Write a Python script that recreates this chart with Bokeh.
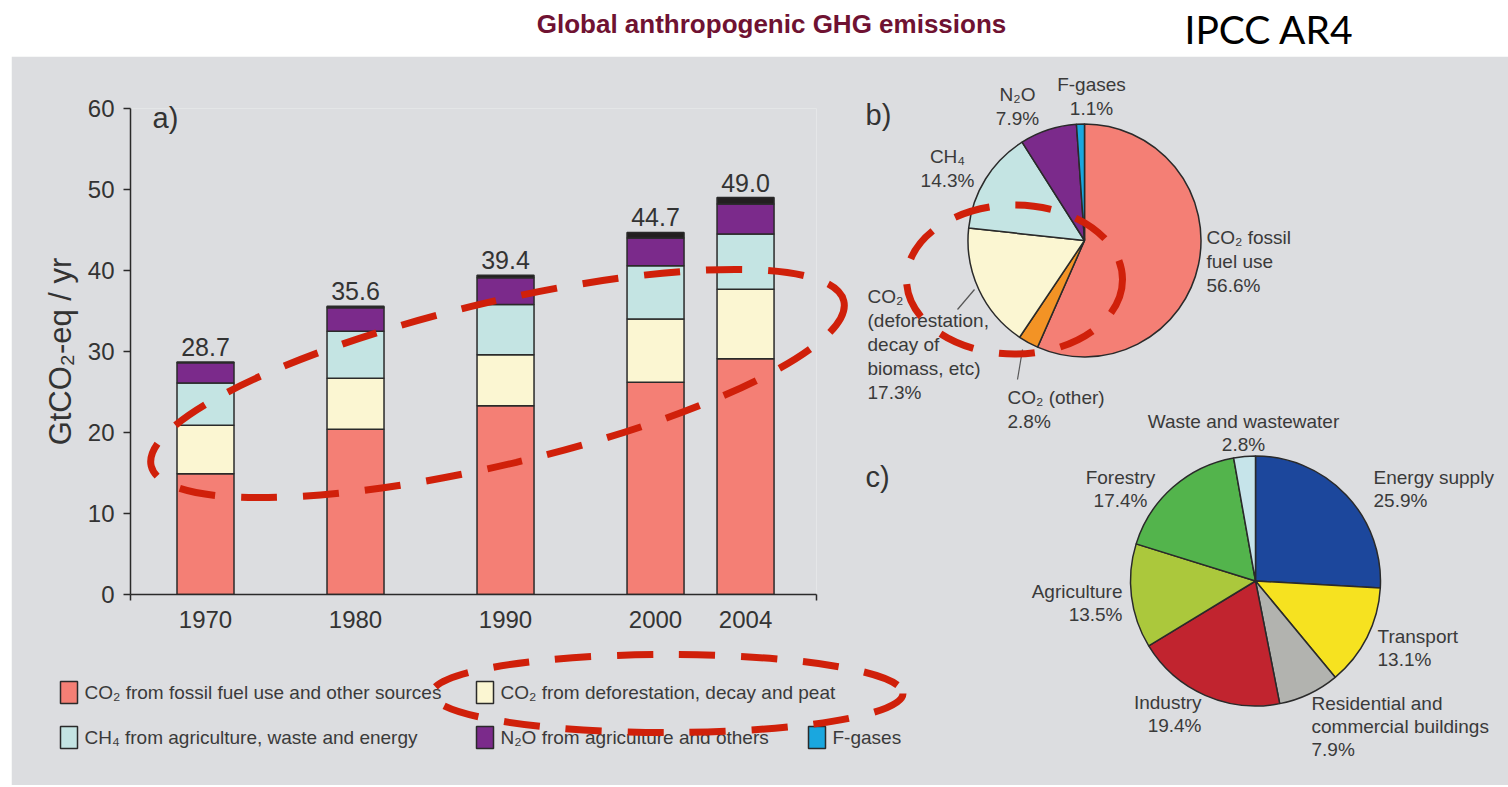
import math
from bokeh.plotting import figure
from bokeh.models import ColumnDataSource, Range1d, FixedTicker, Spacer
from bokeh.layouts import column, row
from bokeh.embed import file_html
from bokeh.resources import INLINE
from bokeh.core.properties import value

# ---------------- data ----------------
years = ["1970", "1980", "1990", "2000", "2004"]
co2_fossil = [14.9, 20.4, 23.3, 26.2, 29.1]
co2_deforestation = [6.0, 6.3, 6.3, 7.8, 8.6]
ch4 = [5.2, 5.8, 6.2, 6.6, 6.8]
n2o = [2.5, 2.9, 3.3, 3.4, 3.7]
f_gases = [0.1, 0.2, 0.3, 0.7, 0.8]
totals = [28.7, 35.6, 39.4, 44.7, 49.0]
y_ticks = [0, 10, 20, 30, 40, 50, 60]

series_labels = [
    "CO₂ from fossil fuel use and other sources",
    "CO₂ from deforestation, decay and peat",
    "CH₄ from agriculture, waste and energy",
    "N₂O from agriculture and others",
    "F-gases",
]

gas_names = ["CO₂ fossil\nfuel use", "CO₂ (other)",
             "CO₂\n(deforestation,\ndecay of\nbiomass, etc)",
             "CH₄", "N₂O", "F-gases"]
gas_shares = [56.6, 2.8, 17.3, 14.3, 7.9, 1.1]

sector_names = ["Energy supply", "Transport",
                "Residential and\ncommercial buildings", "Industry",
                "Agriculture", "Forestry", "Waste and wastewater"]
sector_shares = [25.9, 13.1, 7.9, 19.4, 13.5, 17.4, 2.8]

# ---------------- layout / style ----------------
bar_pos = [0, 10, 20, 30, 36]
FONT = "Liberation Sans"
GREY = "#dcdde0"
INK = "#333333"
OUT = "#2a2a2a"
RED = "#d0200a"
C_FOSSIL = "#f47f75"
C_DEFOR = "#fbf6d2"
C_CH4 = "#c4e4e3"
C_N2O = "#7b2a8b"
C_FGAS = "#1aa7df"
C_FGAS_BAR = "#231f20"
C_OTHER = "#f39325"
gas_colors = [C_FOSSIL, C_OTHER, C_DEFOR, C_CH4, C_N2O, C_FGAS]
sector_colors = ["#1c479c", "#f6e220", "#b2b3af", "#c1242f", "#abc83c",
                 "#53b44c", "#c6e4ea"]
gas_label_pos = [(1207, 238, "left"), (1008, 398, "left"), (868, 297, "left"),
                 (948, 157, "center"), (1018, 95, "center"), (1092, 85, "center")]
sector_label_pos = [(1374, 478, "left"), (1378, 637, "left"), (1312, 704, "left"),
                    (1202, 703, "right"), (1123, 592, "right"),
                    (1121, 478, "center"), (1244, 422, "center")]
legend_pos = [(61, 693), (477, 693), (61, 738), (477, 738), (809, 738)]
legend_colors = [C_FOSSIL, C_DEFOR, C_CH4, C_N2O, C_FGAS]

# ---------------- header ----------------
hdr = figure(width=1507, height=56, x_range=Range1d(1, 1508), y_range=Range1d(57, 1),
             x_axis_type=None, y_axis_type=None, toolbar_location=None,
             output_backend="svg", min_border=0, outline_line_color=None,
             background_fill_color="white", border_fill_color="white")
hdr.text(x=[772], y=[24], text=["Global anthropogenic GHG emissions"],
         text_font=value(FONT), text_font_style="bold", text_font_size="26px",
         text_color="#6f1232", text_align="center", text_baseline="middle",
         level="overlay")
hdr.text(x=[1185], y=[29], text=["IPCC AR4"], text_font=value("Lato"),
         text_font_size="39px", text_color="black", text_align="left",
         text_baseline="middle", level="overlay")

# ---------------- main panel ----------------
p = figure(frame_width=686, frame_height=486, x_range=Range1d(-5, 40.73),
           y_range=Range1d(0, 60), toolbar_location=None, output_backend="svg",
           min_border_left=119, min_border_right=692, min_border_top=52,
           min_border_bottom=191, background_fill_color=GREY,
           border_fill_color=GREY, outline_line_color=None)
p.extra_x_ranges = {"px": Range1d(131, 817)}
p.extra_y_ranges = {"py": Range1d(595, 109)}
p.grid.visible = False

yax = p.yaxis[0]
yax.ticker = FixedTicker(ticks=y_ticks)
yax.axis_line_color = OUT
yax.axis_line_width = 1.5
yax.major_tick_line_color = OUT
yax.major_tick_line_width = 1.5
yax.major_tick_out = 7
yax.major_tick_in = 0
yax.minor_tick_line_color = None
yax.major_label_text_font = FONT
yax.major_label_text_font_size = "24px"
yax.major_label_text_color = INK
yax.major_label_standoff = 9
yax.axis_label = "GtCO₂-eq / yr"
yax.axis_label_text_font = FONT
yax.axis_label_text_font_size = "31px"
yax.axis_label_text_font_style = "normal"
yax.axis_label_text_color = INK
yax.axis_label_standoff = 7

xax = p.xaxis[0]
xax.ticker = FixedTicker(ticks=bar_pos, minor_ticks=[-4.99, 40.72])
xax.major_label_overrides = dict(zip(bar_pos, years))
xax.axis_line_color = OUT
xax.axis_line_width = 1.5
xax.major_tick_line_color = None
xax.major_tick_out = 0
xax.major_tick_in = 0
xax.minor_tick_line_color = OUT
xax.minor_tick_line_width = 1.5
xax.minor_tick_out = 6
xax.minor_tick_in = 0
xax.major_label_text_font = FONT
xax.major_label_text_font_size = "24px"
xax.major_label_text_color = INK
xax.major_label_standoff = 10

src = ColumnDataSource(dict(x=bar_pos, fossil=co2_fossil, defor=co2_deforestation,
                            ch4=ch4, n2o=n2o, fgas=f_gases))
p.vbar_stack(["fossil", "defor", "ch4", "n2o", "fgas"], x="x", width=3.8, source=src,
             fill_color=[C_FOSSIL, C_DEFOR, C_CH4, C_N2O, C_FGAS_BAR],
             line_color=OUT, line_width=1.5)
p.text(x=bar_pos, y=totals, text=[f"{t:.1f}" for t in totals], text_align="center",
       text_baseline="middle", y_offset=-15, text_font=value(FONT),
       text_font_size="25px", text_color=INK)

PX = dict(x_range_name="px", y_range_name="py", level="overlay")


def put_text(x, y, s, size="19px", align="left", color=INK):
    p.text(x=[x], y=[y], text=[s], text_align=align, text_baseline="middle",
           text_font=value(FONT), text_font_size=size, text_color=color, **PX)


def put_lines(x, y0, s, align, dy=23.5):
    for i, line in enumerate(s.split("\n")):
        put_text(x, y0 + i * dy, line, align=align, color="#3a3a3a")


def wedge_angles(shares):
    tot = sum(shares)
    starts, ends, c = [], [], 0.0
    for s in shares:
        starts.append(math.pi / 2 - 2 * math.pi * c / tot)
        c += s
        ends.append(math.pi / 2 - 2 * math.pi * c / tot)
    return starts, ends


# panel letters
put_text(153, 118, "a)", size="29px")
put_text(866, 115, "b)", size="29px")
put_text(866, 477, "c)", size="29px")

# pie b
s_b, e_b = wedge_angles(gas_shares)
p.wedge(x=1085, y=241, radius=116.5, start_angle=s_b, end_angle=e_b,
        direction="clock", fill_color=gas_colors, line_color=OUT, line_width=1.5, **PX)
for name, share, (lx, ly, al) in zip(gas_names, gas_shares, gas_label_pos):
    put_lines(lx, ly, f"{name}\n{share:.1f}%", al, dy=24)
p.segment(x0=[958, 1018], y0=[310, 380], x1=[975, 1023], y1=[290, 350],
          line_color="#555555", line_width=1.2, **PX)

# pie c
s_c, e_c = wedge_angles(sector_shares)
p.wedge(x=1256, y=581.5, radius=125, start_angle=s_c, end_angle=e_c,
        direction="clock", fill_color=sector_colors, line_color=OUT, line_width=1.5, **PX)
for name, share, (lx, ly, al) in zip(sector_names, sector_shares, sector_label_pos):
    put_lines(lx, ly, f"{name}\n{share:.1f}%", al, dy=23)

# legend
for lab, col, (lx, ly) in zip(series_labels, legend_colors, legend_pos):
    p.rect(x=[lx + 8.5], y=[ly], width=17, height=22, fill_color=col,
           line_color=OUT, line_width=1.5, **PX)
    put_text(lx + 24, ly, lab, size="19px", color="#3a3a3a")

# red dashed highlight ellipses
p.ellipse(x=[498, 668, 1015], y=[384, 694, 280], width=[712, 471, 216],
          height=[162, 78, 149], angle=[0.234, 0.0, 0.0], fill_color=None,
          line_color=RED, line_width=7, line_dash="36 26", **PX)

layout = column(hdr, row(Spacer(width=11, height=734), p))
open("out.html", "w").write(file_html(layout, INLINE))
